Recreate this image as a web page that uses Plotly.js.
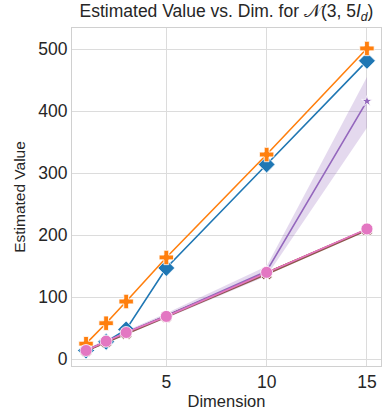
<!DOCTYPE html>
<html><head><meta charset="utf-8">
<script src="https://cdn.plot.ly/plotly-3.0.1.min.js"></script>
<style>html,body{margin:0;padding:0;background:#fff}#chart{width:383px;height:410px}</style>
</head><body><div id="chart"></div>
<script>
const dims = [1, 2, 3, 5, 10, 15];
const blueVals = [14, 28, 48, 147, 314, 481];
const orangeVals = [25, 58, 93, 164, 330, 501];
const greenVals = [14, 28, 42, 69, 139, 209];
const redVals = [14, 28, 42, 69, 139, 209];
const purpleVals = [14, 29, 43, 70, 142, 416];
const purpleLo = [12, 26, 40, 66, 134, 373];
const purpleHi = [16, 32, 46, 74, 150, 455];
const brownVals = [13, 27, 41, 68, 137, 208];
const pinkVals = [14, 29, 43, 69, 140, 210];
const xTicks = [5, 10, 15];
const yTicks = [0, 100, 200, 300, 400, 500];

const mk = (y, color, symbol, size, name) => ({
  x: dims, y: y, type: 'scatter', mode: 'lines+markers', name: name,
  line: {color: color, width: 1.6},
  marker: {color: color, symbol: symbol, size: size, line: {color: '#ffffff', width: 0.8}},
  showlegend: false, hoverinfo: 'skip'
});

const traces = [
  {x: dims.concat(dims.slice().reverse()), y: purpleHi.concat(purpleLo.slice().reverse()),
   type: 'scatter', mode: 'lines', fill: 'toself', fillcolor: 'rgba(148,103,189,0.25)',
   line: {width: 0, color: 'rgba(0,0,0,0)'}, showlegend: false, hoverinfo: 'skip'},
  mk(blueVals, '#1f77b4', 'diamond', 13, 'blue'),
  mk(orangeVals, '#ff7f0e', 'cross', 12, 'orange'),
  mk(greenVals, '#2ca02c', 'square', 9, 'green'),
  mk(redVals, '#d62728', 'triangle-up', 9, 'red'),
  mk(purpleVals, '#9467bd', 'star', 8, 'purple'),
  mk(brownVals, '#8c564b', 'x', 10, 'brown'),
  mk(pinkVals, '#e377c2', 'circle', 12, 'pink')
];

const FONT = 'Liberation Sans, Arial, Helvetica, sans-serif';
const layout = {
  width: 383, height: 410,
  margin: {l: 72, r: 2, t: 28, b: 44},
  paper_bgcolor: '#ffffff', plot_bgcolor: '#ffffff',
  font: {family: FONT, color: '#262626'},
  title: {text: 'Estimated Value vs. Dim. for 𝒩(3, 5<i>I</i><sub><i>d</i></sub>)',
    font: {family: FONT, size: 17.5, color: '#262626'}, xref: 'paper', x: 0.5, xanchor: 'center',
    yref: 'container', y: 0.988, yanchor: 'top'},
  xaxis: {range: [0.3, 15.7], tickvals: xTicks, ticktext: xTicks.map(String),
    showgrid: true, gridcolor: '#dcdcdc', gridwidth: 1, zeroline: false,
    showline: true, linecolor: '#d0d0d0', linewidth: 1, mirror: true, ticks: '',
    tickfont: {size: 17.5, color: '#262626'},
    title: {text: 'Dimension', font: {size: 16.5, color: '#262626'}, standoff: 2}},
  yaxis: {range: [-11, 534], tickvals: yTicks, ticktext: yTicks.map(String),
    showgrid: true, gridcolor: '#dcdcdc', gridwidth: 1, zeroline: false,
    showline: true, linecolor: '#d0d0d0', linewidth: 1, mirror: true, ticks: '',
    tickfont: {size: 17.5, color: '#262626'},
    title: {text: 'Estimated Value', font: {size: 15.5, color: '#262626'}, standoff: 8}}
};

Plotly.newPlot('chart', traces, layout, {staticPlot: true, displayModeBar: false});
</script></body></html>
